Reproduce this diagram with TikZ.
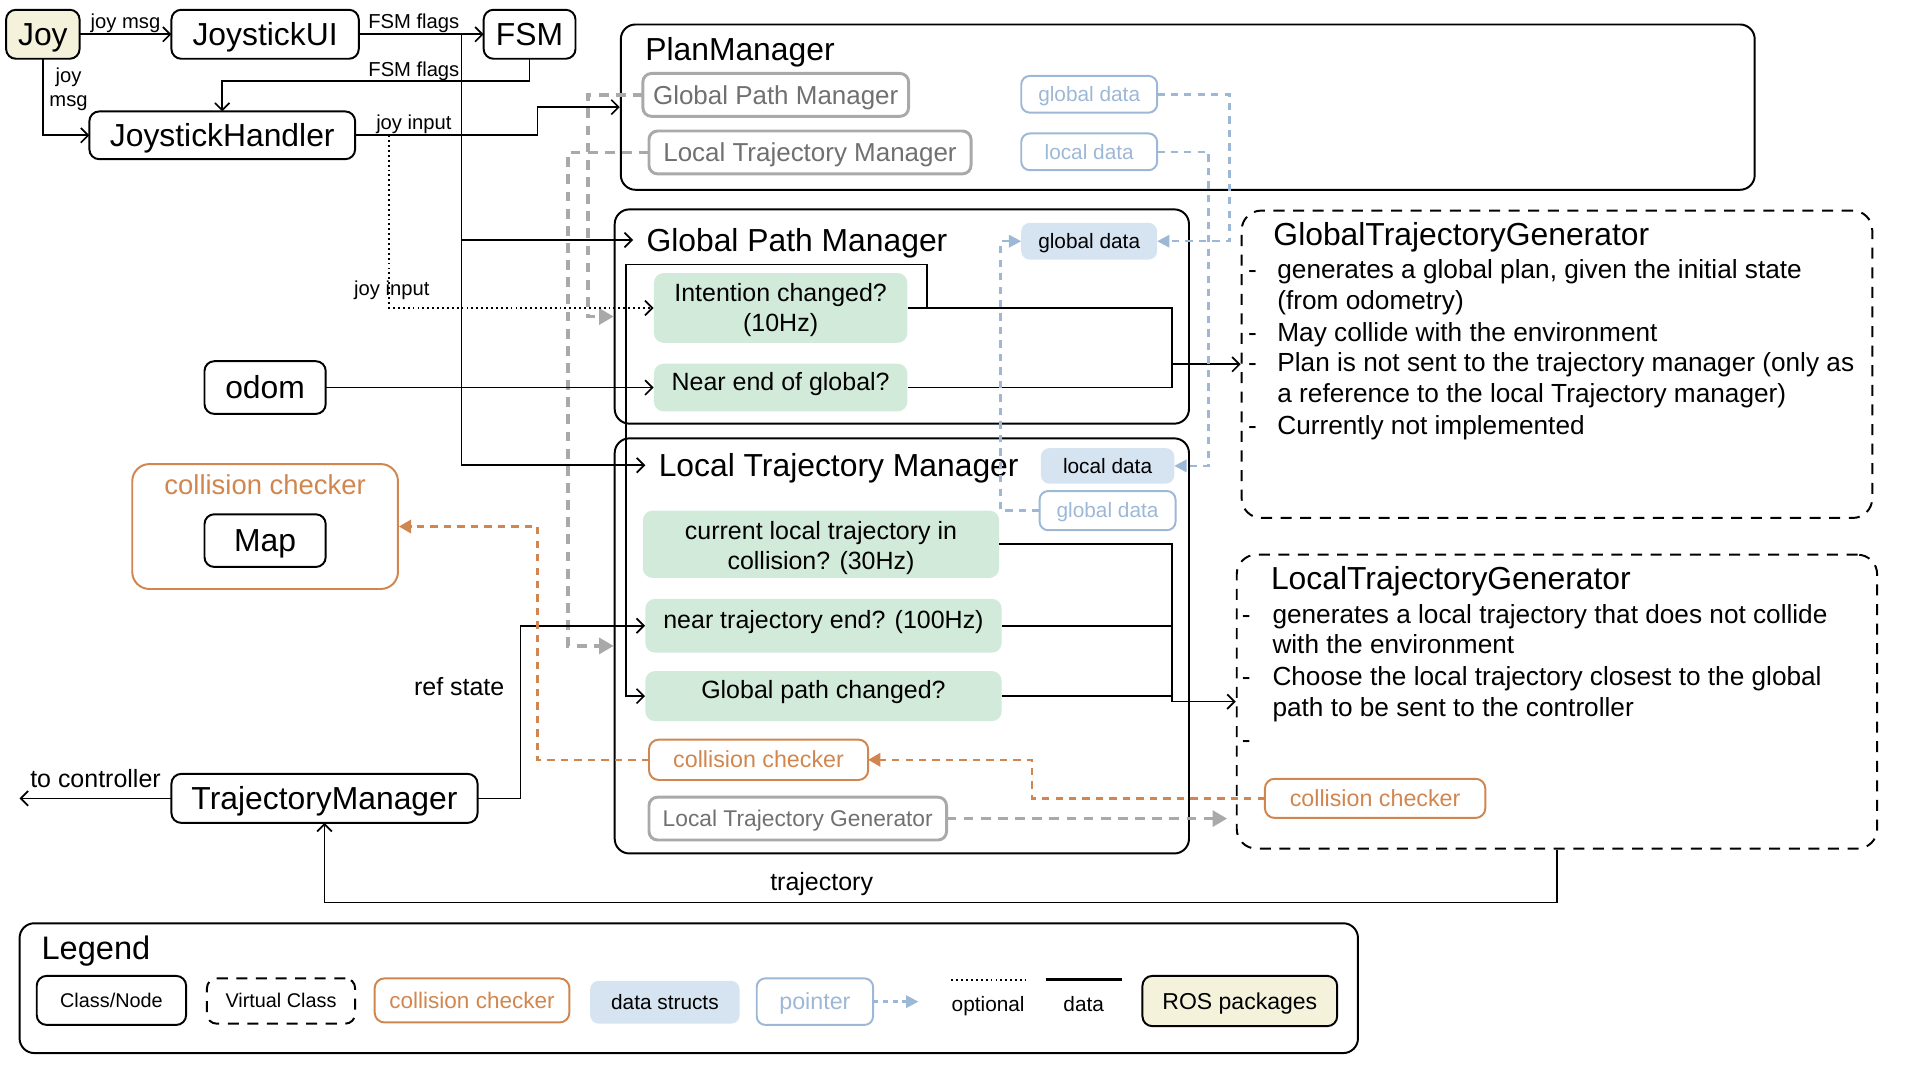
\documentclass[tikz,border=0pt]{standalone}
\usepackage{fontspec}
\setmainfont{Liberation Sans}
\usetikzlibrary{arrows.meta,calc}
\definecolor{cream}{HTML}{F4F2DA}
\definecolor{grn}{HTML}{D2EADA}
\definecolor{bfill}{HTML}{D6E3F1}
\definecolor{bline}{HTML}{9DB7D6}
\definecolor{orng}{HTML}{D0864E}
\definecolor{gline}{HTML}{A9A9A9}
\definecolor{gtext}{HTML}{707070}
\newcommand\fsBig{\fontsize{26}{31}\selectfont}
\newcommand\fsGrn{\fontsize{20.4}{24.5}\selectfont}
\newcommand\fsTxt{\fontsize{21.4}{25.3}\selectfont}
\newcommand\fsMid{\fontsize{20.4}{24}\selectfont}
\newcommand\fsGry{\fontsize{21.2}{25}\selectfont}
\newcommand\fsGrys{\fontsize{18.6}{22}\selectfont}
\newcommand\fsDat{\fontsize{17}{20}\selectfont}
\newcommand\fsLbl{\fontsize{16.5}{19}\selectfont}
\newcommand\fsOcc{\fontsize{19}{22}\selectfont}
\newcommand\fsOccB{\fontsize{22.4}{26}\selectfont}
\newcommand\fsLeg{\fontsize{26.6}{31}\selectfont}
\newcommand\fsLs{\fontsize{16.2}{19}\selectfont}
\newcommand\fsLcc{\fontsize{18.4}{22}\selectfont}
\newcommand\fsPtr{\fontsize{19}{22}\selectfont}
\newcommand\fsRos{\fontsize{18.8}{22}\selectfont}
\begin{document}
\begin{tikzpicture}[x=1pt,y=-1pt,
  base/.style={inner sep=0pt, outer sep=0pt, execute at begin node={\vphantom{Jy}\rule{0pt}{0.91em}}},
  cls/.style={base, draw=black, line width=1.6pt, rounded corners=8pt, font=\fsBig},
  ros/.style={cls, fill=cream},
  grnbox/.style={inner sep=0pt, fill=grn, rounded corners=8pt, font=\fsGrn, align=center},
  grnone/.style={grnbox, execute at begin node={\vphantom{Jy}\rule[-0.5em]{0pt}{0.5em}}},
  grybox/.style={base, draw=gline, line width=2.4pt, rounded corners=7pt, text=gtext, font=\fsGry},
  datbox/.style={base, fill=bfill, rounded corners=7pt, font=\fsDat},
  ptrbox/.style={base, draw=bline, line width=1.6pt, rounded corners=7pt, text=bline, font=\fsDat},
  occbox/.style={base, draw=orng, line width=1.6pt, rounded corners=8pt, text=orng, font=\fsOcc},
  cont/.style={draw=black, line width=1.6pt, rounded corners=12pt, inner sep=0pt},
  virt/.style={draw=black, line width=1.6pt, dash pattern=on 9pt off 7pt, rounded corners=16pt, inner sep=0pt},
  conn/.style={draw=black, line width=1.4pt},
  arr/.style={-{Straight Barb[length=6pt,width=12pt]}},
  dotl/.style={draw=black, line width=1.5pt, dash pattern=on 1.5pt off 2.5pt},
  gdash/.style={draw=gline, line width=3pt, dash pattern=on 8pt off 6pt, -{Triangle[length=12pt,width=13pt]}},
  bdash/.style={draw=bline, line width=2pt, dash pattern=on 6pt off 5pt, -{Triangle[length=10pt,width=10pt]}},
  odash/.style={draw=orng, line width=2pt, dash pattern=on 6pt off 5pt, -{Triangle[length=10pt,width=11pt]}},
  lbl/.style={inner sep=1pt, font=\fsLbl},
  ttl/.style={base, anchor=west, font=\fsBig},
  txtl/.style={anchor=base west, inner sep=0pt, font=\fsTxt},
]
\useasboundingbox (0,0) rectangle (1568,882);

% top row
\node[ros, minimum width=60pt, minimum height=40pt] (joy) at (35,28) {Joy};
\node[cls, minimum width=153pt, minimum height=40pt] (jui) at (216.5,28) {JoystickUI};
\node[cls, minimum width=75pt, minimum height=40pt] (fsm) at (432.5,28) {FSM};
\node[cls, minimum width=217pt, minimum height=39pt] (jh) at (181.5,110.5) {JoystickHandler};

% PlanManager
\node[cont, minimum width=926pt, minimum height=135pt] (pm) at (970,87.5) {};
\node[ttl] (pmt) at (527,40) {PlanManager};
\node[grybox, minimum width=217pt, minimum height=35pt] (pgpm) at (633.5,77.5) {Global Path Manager};
\node[grybox, minimum width=263pt, minimum height=35pt] (pltm) at (661.5,124.5) {Local Trajectory Manager};
\node[ptrbox, minimum width=111pt, minimum height=30pt] (pgd) at (889.5,77) {global data};
\node[ptrbox, minimum width=111pt, minimum height=30pt] (pld) at (889.5,124) {local data};

% Global Path Manager
\node[cont, minimum width=469pt, minimum height=175pt] (gpm) at (736.5,258.5) {};
\node[ttl] (gpmt) at (528,196) {Global Path Manager};
\node[datbox, minimum width=111pt, minimum height=30pt] (ggd) at (889.5,197) {global data};
\node[grnbox, minimum width=207pt, minimum height=57pt] (ic) at (637.5,251.5) {\rule{0pt}{0.86em}Intention changed?\\(10Hz)};
\node[grnone, minimum width=207pt, minimum height=39pt] (ne) at (637.5,316.5) {Near end of global?};
\node[cls, minimum width=99pt, minimum height=43pt] (odom) at (216.5,316.5) {odom};

% Local Trajectory Manager
\node[cont, minimum width=469pt, minimum height=339pt] (ltm) at (736.5,527.5) {};
\node[ttl] (ltmt) at (538,380) {Local Trajectory Manager};
\node[datbox, minimum width=109pt, minimum height=29pt] (lld) at (904.5,380.5) {local data};
\node[ptrbox, minimum width=111pt, minimum height=32pt] (lgd) at (904.5,417) {global data};
\node[grnbox, minimum width=291pt, minimum height=55pt] (clt) at (670.5,444.5) {\rule{0pt}{1.0em}current local trajectory in\\collision? (30Hz)};
\node[grnone, minimum width=291pt, minimum height=44pt] (nte) at (672.5,511) {near trajectory end? (100Hz)};
\node[grnone, minimum width=291pt, minimum height=41pt] (gpc) at (672.5,568.5) {Global path changed?};
\node[occbox, minimum width=179pt, minimum height=33pt] (lcc) at (619.5,620.5) {collision checker};
\node[grybox, font=\fsGrys, minimum width=243pt, minimum height=35pt] (ltgg) at (651.5,668.5) {Local Trajectory Generator};

% GlobalTrajectoryGenerator
\node[virt, minimum width=515pt, minimum height=251pt] (gtg) at (1271.5,297.5) {};
\node[ttl] (gtgt) at (1040,191) {GlobalTrajectoryGenerator};
\node[txtl] (g1) at (1043,227.5) {generates a global plan, given the initial state};
\node[txtl] (g2) at (1043,252.5) {(from odometry)};
\node[txtl] (g3) at (1043,278.5) {May collide with the environment};
\node[txtl] (g4) at (1043,303.5) {Plan is not sent to the trajectory manager (only as};
\node[txtl] (g5) at (1043,328.5) {a reference to the local Trajectory manager)};
\node[txtl] (g6) at (1043,354.5) {Currently not implemented};
\node[txtl] (gd1) at (1019,227.5) {-};
\node[txtl] (gd3) at (1019,278.5) {-};
\node[txtl] (gd4) at (1019,303.5) {-};
\node[txtl] (gd6) at (1019,354.5) {-};

% LocalTrajectoryGenerator
\node[virt, minimum width=523pt, minimum height=240pt] (ltg) at (1271.5,573) {};
\node[ttl] (ltgt) at (1038,472) {LocalTrajectoryGenerator};
\node[txtl] (t1) at (1039,509) {generates a local trajectory that does not collide};
\node[txtl] (t2) at (1039,534) {with the environment};
\node[txtl] (t3) at (1039,560) {Choose the local trajectory closest to the global};
\node[txtl] (t4) at (1039,585) {path to be sent to the controller};
\node[txtl] (td1) at (1014,509) {-};
\node[txtl] (td3) at (1014,560) {-};
\node[txtl] (td5) at (1014,611) {-};
\node[occbox, minimum width=180pt, minimum height=32pt] (gcc) at (1123,652) {collision checker};

% collision checker with Map
\node[draw=orng, line width=1.6pt, rounded corners=14pt, minimum width=217pt, minimum height=102pt, inner sep=0pt] (bigcc) at (216.5,430) {};
\node[base, text=orng, font=\fsOccB] (bigcct) at (216.5,396) {collision checker};
\node[cls, minimum width=99pt, minimum height=43pt] (map) at (216.5,441.5) {Map};

\node[cls, minimum width=250pt, minimum height=40pt] (tm) at (265,652) {TrajectoryManager};

% Legend
\node[cont, minimum width=1093pt, minimum height=106pt] (leg) at (562.5,807) {};
\node[ttl, font=\fsLeg] (legt) at (34,774) {Legend};
\node[cls, font=\fsLs, minimum width=122pt, minimum height=40pt] (lg1) at (91,817) {Class/Node};
\node[base, draw=black, line width=1.6pt, dash pattern=on 9pt off 7pt, rounded corners=8pt, font=\fsLs, minimum width=121pt, minimum height=37pt] (lg2) at (229.5,817.5) {Virtual Class};
\node[occbox, font=\fsLcc, minimum width=159pt, minimum height=36pt] (lg3) at (385.5,817) {collision checker};
\node[datbox, minimum width=122pt, minimum height=35pt] (lg4) at (543,818.5) {data structs};
\node[ptrbox, font=\fsPtr, minimum width=95pt, minimum height=38pt] (lg5) at (665.5,818) {pointer};
\coordinate (lg5e) at (750,818);
\draw[bdash, dash pattern=on 4pt off 4pt] (lg5.east) -- (lg5e);
\coordinate (opA) at (777,800);
\coordinate (opB) at (838,800);
\draw[dotl] (opA) -- (opB);
\node[base, font=\fsDat] (opt) at (807,820) {optional};
\coordinate (daA) at (854,800);
\coordinate (daB) at (916,800);
\draw[conn, line width=2pt] (daA) -- (daB);
\node[base, font=\fsDat] (datl) at (885,820) {data};
\node[ros, font=\fsRos, minimum width=159pt, minimum height=41pt] (lg8) at (1012.5,817.5) {ROS packages};

% helper coordinates
\coordinate (vx) at (377,0);
\coordinate (jx) at (439,0);
\coordinate (dx) at (318,0);
\coordinate (tx) at (425,0);
\coordinate (gx1) at (480,0);
\coordinate (gx2) at (464,0);
\coordinate (ox1) at (439,0);
\coordinate (ox2) at (843,0);
\coordinate (bx1) at (1004,0);
\coordinate (bx2) at (987,0);
\coordinate (bx3) at (817,0);
\coordinate (ty) at (0,737);
\coordinate (fy) at (0,66);
\coordinate (c1) at (757,216);
\coordinate (c2) at (511,216);
\coordinate (gx) at (957,297.5);
\coordinate (lx) at (957,573);
\coordinate (ctrl) at (16,652);

% gray dashed (optional pointers)
\draw[gdash] (pgpm.west) -- (pgpm.west -| gx1) |- (gpm.west);
\draw[gdash] (pltm.west) -- (pltm.west -| gx2) |- (ltm.west);
\draw[gdash] (ltgg.east) -- ([xshift=-7pt]ltgg.east -| ltg.west);

% black connectors
\draw[conn,arr] (joy.east) -- node[lbl, above] (l1) {joy msg} (jui.west);
\draw[conn,arr] (jui.east) -- node[lbl, above, pos=0.44] (l2) {FSM flags} (fsm.west);
\draw[conn,arr] (jui.east -| vx) -- (ltmt.west -| vx) -- ([xshift=-11pt]ltmt.west);
\draw[conn,arr] (gpmt.west -| vx) -- ([xshift=-11pt]gpmt.west);
\draw[conn,arr] (fsm.south) -- (fsm.south |- fy) -| (jh.north);
\node[lbl, above] (l3) at (338,67) {FSM flags};
\draw[conn,arr] (joy.south) |- (jh.west);
\node[lbl, align=center] (l4) at (56,73) {joy\\msg};
\draw[conn,arr] (jh.east) -- (jh.east -| jx) |- (pm.west);
\node[lbl, above] (l5) at (338,110.5) {joy input};
\draw[dotl,arr] (jh.east -| dx) |- (ic.west);
\node[lbl] (l6) at (320,237) {joy input};
\draw[conn,arr] (odom.east) -- (ne.west);
\draw[conn,arr] (ic.east) -| (c1) -- (c2) |- (gpc.west);
\draw[conn] (ic.east) -| (gx) |- (ne.east);
\draw[conn,arr] (gx) -- (gtg.west);
\draw[conn] (clt.east) -| (lx);
\draw[conn] (nte.east) -| (lx);
\draw[conn] (gpc.east) -| (lx);
\draw[conn,arr] (lx) -- (ltg.west);
\draw[conn,arr] (tm.east) -- (tm.east -| tx) |- (nte.west);
\node[font=\fsMid, inner sep=0pt] (l7) at (375,561) {ref state};
\draw[conn,arr] (tm.west) -- (ctrl);
\node[font=\fsMid, inner sep=0pt] (l8) at (78,636) {to controller};
\draw[conn,arr] (ltg.south) -- (ltg.south |- ty) -| (tm.south);
\node[font=\fsMid, inner sep=0pt] (l9) at (671,722) {trajectory};

% blue pointers
\draw[bdash] (pgd.east) -- (pgd.east -| bx1) |- (ggd.east);
\draw[bdash] (pld.east) -- (pld.east -| bx2) |- (lld.east);
\draw[bdash] (lgd.west) -- (lgd.west -| bx3) |- (ggd.west);

% orange collision checker links
\draw[odash] (lcc.west) -- (lcc.west -| ox1) |- (bigcc.east);
\draw[odash] (gcc.west) -- (gcc.west -| ox2) |- (lcc.east);
\end{tikzpicture}
\end{document}
